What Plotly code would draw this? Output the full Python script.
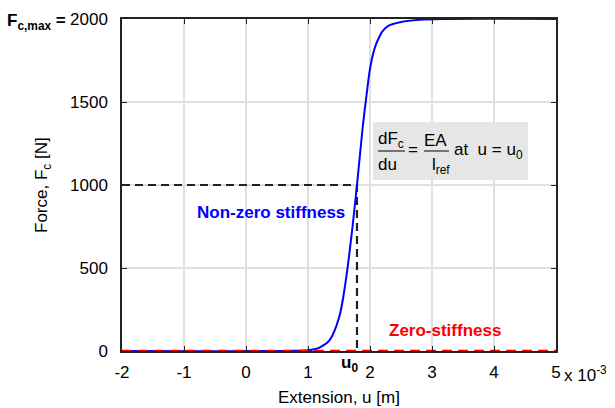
import plotly.graph_objects as go

# Data (u in units of 1e-3 m, F in N)
u_curve = [-2.0, 0.8, 1.0, 1.1, 1.2, 1.35, 1.5, 1.6, 1.7, 1.79, 1.88, 1.95, 2.0, 2.05, 2.1, 2.15, 2.2, 2.3, 2.5, 2.8, 3.2, 5.0]
F_curve = [0, 1, 4, 10, 24, 66, 200, 400, 690, 1000, 1340, 1560, 1700, 1790, 1850, 1892, 1925, 1960, 1982, 1995, 2000, 2000]
u_zero = [-2.0, 5.0]
F_zero = [0, 0]
u0 = 1.79
F_u0 = 1000
x_ticks = [-2, -1, 0, 1, 2, 3, 4, 5]
y_ticks = [0, 500, 1000, 1500, 2000]

FONT = "Liberation Sans, Arial, sans-serif"
L, R, T, B = 122, 556, 19, 351
W, H = 615, 408
XMIN, XMAX, YMIN, YMAX = -2, 5, 0, 2000
FS = 17


def px2x(px):
    return XMIN + (px - L) / (R - L) * (XMAX - XMIN)


def py2y(py):
    return YMIN + (B - py) / (B - T) * (YMAX - YMIN)


fig = go.Figure()
fig.add_trace(go.Scatter(x=[-2.0, u0, u0], y=[F_u0, F_u0, 0], mode="lines",
                         line=dict(color="#222222", width=2.2, dash="8px,5px"), hoverinfo="skip"))
fig.add_trace(go.Scatter(x=u_curve, y=F_curve, mode="lines", line_shape="spline",
                         line=dict(color="blue", width=2), hoverinfo="skip"))
fig.add_trace(go.Scatter(x=u_zero, y=F_zero, mode="lines",
                         line=dict(color="red", width=2.5, dash="10px,6px"), hoverinfo="skip"))

axis_common = dict(showgrid=True, gridcolor="#e0e0e0", gridwidth=1.5,
                   showline=True, linecolor="#222222", linewidth=1.5, mirror="ticks",
                   ticks="inside", ticklen=5, tickcolor="#222222", zeroline=False,
                   automargin=False, tickfont=dict(family=FONT, size=FS, color="black"))

fig.update_layout(
    width=W, height=H,
    margin=dict(l=L, r=W - R, t=T, b=H - B),
    paper_bgcolor="white", plot_bgcolor="white",
    showlegend=False,
    font=dict(family=FONT, size=FS, color="black"),
    xaxis=dict(range=[XMIN, XMAX], tickvals=x_ticks, ticktext=[str(v) for v in x_ticks],
               ticklabelstandoff=5, **axis_common),
    yaxis=dict(range=[YMIN, YMAX], tickvals=y_ticks, ticktext=[str(v) for v in y_ticks],
               ticklabelstandoff=9, **axis_common),
)

# annotation box
fig.add_shape(type="rect", xref="x", yref="y", x0=px2x(373), x1=px2x(528), y0=py2y(180), y1=py2y(122),
              fillcolor="#e6e6e6", line=dict(width=0), layer="above")
fig.add_shape(type="line", xref="x", yref="y", x0=px2x(378), x1=px2x(405), y0=py2y(151), y1=py2y(151),
              line=dict(color="black", width=1))
fig.add_shape(type="line", xref="x", yref="y", x0=px2x(424), x1=px2x(449), y0=py2y(151), y1=py2y(151),
              line=dict(color="black", width=1))


def ann(px, py, text, size=FS, color="black", xanchor="left", angle=0):
    fig.add_annotation(x=px2x(px), y=py2y(py), xref="x", yref="y", text=text, showarrow=False,
                       font=dict(family=FONT, size=size, color=color), xanchor=xanchor,
                       yanchor="middle", textangle=angle)


ann(376, 140, "dF<sub>c</sub>")
ann(376, 164, "du")
ann(413, 149, "=", xanchor="center")
ann(422, 140, "EA")
ann(430, 166, "l<sub>ref</sub>")
ann(452, 151, "at&nbsp; u = u<sub>0</sub>")

ann(271, 212, "<b>Non-zero stiffness</b>", color="blue", xanchor="center")
ann(445, 330, "<b>Zero-stiffness</b>", color="red", xanchor="center")


# outside-plot texts
def ann_out(px, py, text, size=FS, xanchor="center", angle=0):
    fig.add_annotation(x=(px - L) / (R - L), y=(B - py) / (B - T), xref="paper", yref="paper",
                       text=text, showarrow=False, font=dict(family=FONT, size=size, color="black"),
                       xanchor=xanchor, yanchor="middle", textangle=angle)


ann_out(68, 22, "<b>F<sub>c,max</sub> =</b>", xanchor="right")
ann_out(349, 364, "<b>u<sub>0</sub></b>")
ann_out(562, 374, "x 10<sup>-3</sup>", xanchor="left")
ann_out(339, 397, "Extension, u [m]")
ann_out(43, 185, "Force, F<sub>c</sub> [N]", angle=-90)

fig.write_html("out.html", config={"displayModeBar": False},
               post_script="document.body.style.margin='0px';")
